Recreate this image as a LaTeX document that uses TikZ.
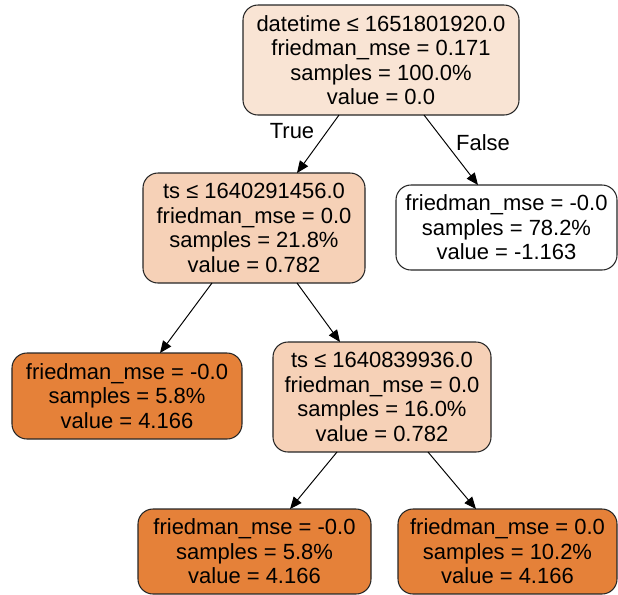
\documentclass[tikz,border=0pt]{standalone}
\usepackage{fontspec}
\setmainfont{Liberation Sans}
\usepackage{tikz}
\usetikzlibrary{arrows.meta,positioning}
\definecolor{rootfill}{RGB}{249,228,212}
\definecolor{splitfill}{RGB}{246,209,183}
\definecolor{leaffill}{RGB}{229,129,57}

\begin{document}
\begin{tikzpicture}[font=\fontsize{12.5}{13.9}\selectfont,
   box/.style={draw=black!85,line width=0.6pt,rounded corners=0.3cm,align=center,
               inner sep=0pt,outer sep=0pt},
   edge/.style={-{Triangle[length=2.4mm,width=2mm]},line width=0.55pt}]
  \useasboundingbox (0,0) rectangle (12.36,-11.88);
  \node[box,fill=rootfill,minimum width=5.52cm,minimum height=2.2cm] (root)
       at (7.62,-1.2)
       {datetime ≤ 1651801920.0\\ friedman\_mse = 0.171\\ samples = 100.0\%\\ value = 0.0};
  \node[box,fill=splitfill,minimum width=4.44cm,minimum height=2.2cm] (ts1)
       at (5.08,-4.56)
       {ts ≤ 1640291456.0\\ friedman\_mse = 0.0\\ samples = 21.8\%\\ value = 0.782};
  \node[box,fill=white,minimum width=4.42cm,minimum height=1.7cm] (leafr)
       at (10.13,-4.55)
       {friedman\_mse = -0.0\\ samples = 78.2\%\\ value = -1.163};
  \node[box,fill=leaffill,minimum width=4.6cm,minimum height=1.72cm] (leafa)
       at (2.54,-7.92)
       {friedman\_mse = -0.0\\ samples = 5.8\%\\ value = 4.166};
  \node[box,fill=splitfill,minimum width=4.36cm,minimum height=2.2cm] (ts2)
       at (7.64,-7.94)
       {ts ≤ 1640839936.0\\ friedman\_mse = 0.0\\ samples = 16.0\%\\ value = 0.782};
  \node[box,fill=leaffill,minimum width=4.66cm,minimum height=1.7cm] (leafb)
       at (5.09,-11.03)
       {friedman\_mse = -0.0\\ samples = 5.8\%\\ value = 4.166};
  \node[box,fill=leaffill,minimum width=4.38cm,minimum height=1.7cm] (leafc)
       at (10.15,-11.03)
       {friedman\_mse = 0.0\\ samples = 10.2\%\\ value = 4.166};
  % edges
  \draw[edge] ([xshift=-0.84cm]root.south) -- ([xshift=0.86cm]ts1.north);
  \draw[edge] ([xshift=0.86cm]root.south) -- ([xshift=-0.57cm]leafr.north);
  \draw[edge] ([xshift=-0.84cm]ts1.south) -- ([xshift=0.66cm]leafa.north);
  \draw[edge] ([xshift=0.86cm]ts1.south) -- ([xshift=-0.84cm]ts2.north);
  \draw[edge] ([xshift=-0.9cm]ts2.south) -- ([xshift=0.71cm]leafb.north);
  \draw[edge] ([xshift=0.92cm]ts2.south) -- ([xshift=-0.63cm]leafc.north);
  \node (lbltrue) at (5.84,-2.62) {True};
  \node (lblfalse) at (9.66,-2.86) {False};
\end{tikzpicture}
\end{document}
